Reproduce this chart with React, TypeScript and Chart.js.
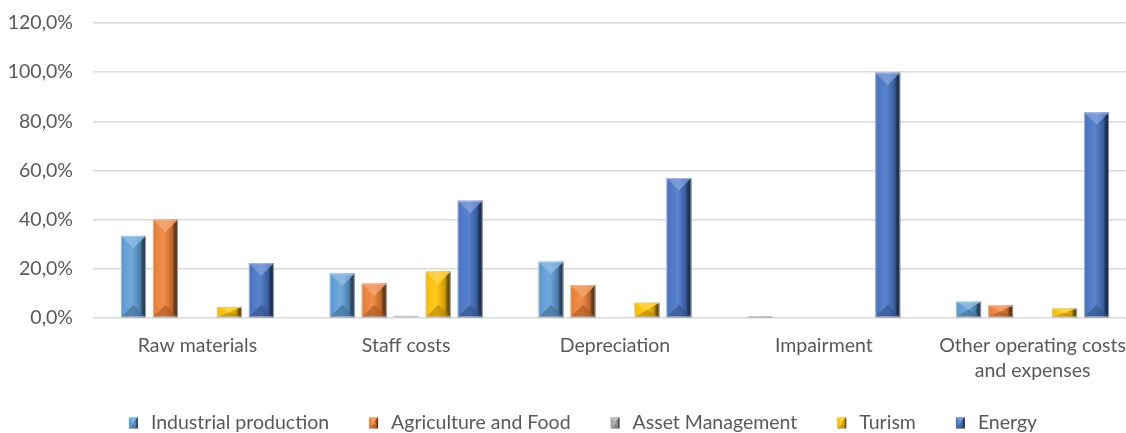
import React, { useEffect, useRef } from "react";
import { Chart, registerables } from "chart.js";

Chart.register(...registerables);

const categories: (string | string[])[] = [
  "Raw materials",
  "Staff costs",
  "Depreciation",
  "Impairment",
  ["Other operating costs", "and expenses"],
];
const seriesNames = [
  "Industrial production",
  "Agriculture and Food",
  "Asset Management",
  "Turism",
  "Energy",
];
const industrial = [33.4, 18.1, 22.9, 0.2, 6.6];
const agriculture = [40.0, 14.0, 13.4, 0, 5.1];
const assetManagement = [0, 0.3, 0, 0, 0];
const turism = [4.5, 18.9, 6.2, 0, 3.9];
const energy = [22.3, 47.7, 56.9, 99.8, 83.6];
const yTicks = [0, 20, 40, 60, 80, 100, 120];
const colors = ["#5B9BD5", "#ED7D31", "#A5A5A5", "#FFC000", "#4472C4"];

const FONT = "Lato, 'Open Sans', sans-serif";
const FONT_SIZE = 19.5;
const TEXT = "#595959";

function hexToRgb(h: string) {
  const n = parseInt(h.slice(1), 16);
  return [(n >> 16) & 255, (n >> 8) & 255, n & 255];
}
function shade(h: string, f: number, a = 1) {
  const [r, g, b] = hexToRgb(h);
  const m = (c: number) =>
    Math.round(f >= 0 ? c + (255 - c) * f : c * (1 + f));
  return `rgba(${m(r)},${m(g)},${m(b)},${a})`;
}

function drawBevel(
  ctx: CanvasRenderingContext2D,
  l: number,
  t: number,
  w: number,
  h: number,
  color: string,
  border = true
) {
  if (h <= 0 || w <= 0) return;
  const r = l + w;
  const b = t + h;
  const cx = l + w / 2;
  ctx.save();
  const g = ctx.createLinearGradient(l, 0, r, 0);
  g.addColorStop(0, shade(color, -0.05));
  g.addColorStop(0.15, shade(color, 0.05));
  g.addColorStop(0.45, shade(color, 0.12));
  g.addColorStop(0.78, shade(color, -0.2));
  g.addColorStop(0.85, shade(color, -0.5));
  g.addColorStop(1, shade(color, -0.7));
  ctx.fillStyle = g;
  ctx.fillRect(l, t, w, h);
  const d = Math.min(w / 2, h / 2);
  ctx.beginPath();
  ctx.moveTo(l, t);
  ctx.lineTo(r, t);
  ctx.lineTo(cx, t + d);
  ctx.closePath();
  const gt = ctx.createLinearGradient(l, 0, r, 0);
  gt.addColorStop(0, shade(color, 0.22));
  gt.addColorStop(0.5, shade(color, 0.3));
  gt.addColorStop(1, shade(color, 0.08));
  ctx.fillStyle = gt;
  ctx.fill();
  ctx.beginPath();
  ctx.moveTo(l, b);
  ctx.lineTo(r, b);
  ctx.lineTo(cx, b - d);
  ctx.closePath();
  ctx.fillStyle = shade(color, -0.3, 0.6);
  ctx.fill();
  if (border && h > 1.5) {
    ctx.strokeStyle = "rgba(200,205,215,0.7)";
    ctx.lineWidth = 1;
    ctx.strokeRect(l + 0.5, t + 0.5, w - 1, h - 1);
  } else if (h <= 1.5) {
    ctx.fillStyle = "rgba(190,190,190,0.9)";
    ctx.fillRect(l, b - 1.5, w, 1.5);
  }
  ctx.restore();
}

const bevelPlugin = {
  id: "bevelBars",
  afterDatasetsDraw(chart: any) {
    const ctx = chart.ctx as CanvasRenderingContext2D;
    chart.data.datasets.forEach((ds: any, i: number) => {
      const meta = chart.getDatasetMeta(i);
      if (meta.hidden) return;
      meta.data.forEach((el: any) => {
        const p = el.getProps(["x", "y", "base", "width"], true);
        const top = Math.min(p.y, p.base);
        const bottom = Math.max(p.y, p.base);
        drawBevel(ctx, p.x - p.width / 2, top, p.width, bottom - top, colors[i]);
      });
    });
  },
};

const legendPlugin = {
  id: "bevelLegend",
  afterDraw(chart: any) {
    const ctx = chart.ctx as CanvasRenderingContext2D;
    const names: string[] = chart.data.datasets.map((d: any) => d.label);
    const mW = 9;
    const mH = 11;
    const gap = 13;
    const itemGap = 40;
    ctx.save();
    ctx.font = `${FONT_SIZE}px ${FONT}`;
    const widths = names.map((n) => ctx.measureText(n).width);
    const total =
      widths.reduce((a, b) => a + b, 0) +
      names.length * (mW + gap) +
      (names.length - 1) * itemGap;
    let x = chart.width / 2 - total / 2;
    const cy = 423;
    ctx.textBaseline = "middle";
    ctx.textAlign = "left";
    names.forEach((n, i) => {
      drawBevel(ctx, x, cy - mH / 2, mW, mH, colors[i], false);
      ctx.fillStyle = TEXT;
      ctx.fillText(n, x + mW + gap, cy);
      x += mW + gap + widths[i] + itemGap;
    });
    ctx.restore();
  },
};

export default function App() {
  const ref = useRef<HTMLCanvasElement | null>(null);
  useEffect(() => {
    if (!ref.current) return;
    const series = [industrial, agriculture, assetManagement, turism, energy];
    const chart = new Chart(ref.current, {
      type: "bar",
      data: {
        labels: categories as any,
        datasets: series.map((d, i) => ({
          label: seriesNames[i],
          data: d,
          backgroundColor: "rgba(0,0,0,0)",
          borderWidth: 0,
          categoryPercentage: 0.766,
          barPercentage: 0.78,
        })),
      },
      options: {
        responsive: false,
        animation: false,
        devicePixelRatio: 1,
        layout: { padding: { top: 23, left: 0, right: 29, bottom: 35 } },
        plugins: {
          tooltip: { enabled: false },
          legend: { display: false },
        },
        scales: {
          x: {
            grid: { display: false, drawTicks: false },
            border: { display: false },
            afterFit: (s: any) => {
              s.height = 80;
              s.paddingLeft = 0;
              s.paddingRight = 0;
              s.paddingTop = 0;
              s.paddingBottom = 0;
            },
            ticks: {
              color: TEXT,
              font: { family: FONT, size: FONT_SIZE, lineHeight: 1.3 },
              maxRotation: 0,
              autoSkip: false,
              padding: 15,
            },
          },
          y: {
            min: 0,
            max: 120,
            afterBuildTicks: (s: any) => {
              s.ticks = yTicks.map((v) => ({ value: v }));
            },
            afterFit: (s: any) => {
              s.width = 93;
              s.paddingTop = 0;
              s.paddingBottom = 0;
              s.paddingLeft = 0;
              s.paddingRight = 0;
            },
            grid: { color: "#D9D9D9", lineWidth: 1.5, drawTicks: false },
            border: { display: false },
            ticks: {
              color: TEXT,
              font: { family: FONT, size: FONT_SIZE },
              padding: 20,
              callback: (v: any) => Number(v).toFixed(1).replace(".", ",") + "%",
            },
          },
        },
      },
      plugins: [bevelPlugin, legendPlugin],
    } as any);
    return () => chart.destroy();
  }, []);
  return (
    <div
      style={{
        position: "absolute",
        left: 0,
        top: 0,
        width: 1126,
        height: 433,
        overflow: "hidden",
        background: "#fff",
      }}
    >
      <canvas ref={ref} width={1166} height={433} style={{ width: 1166, height: 433 }} />
    </div>
  );
}
